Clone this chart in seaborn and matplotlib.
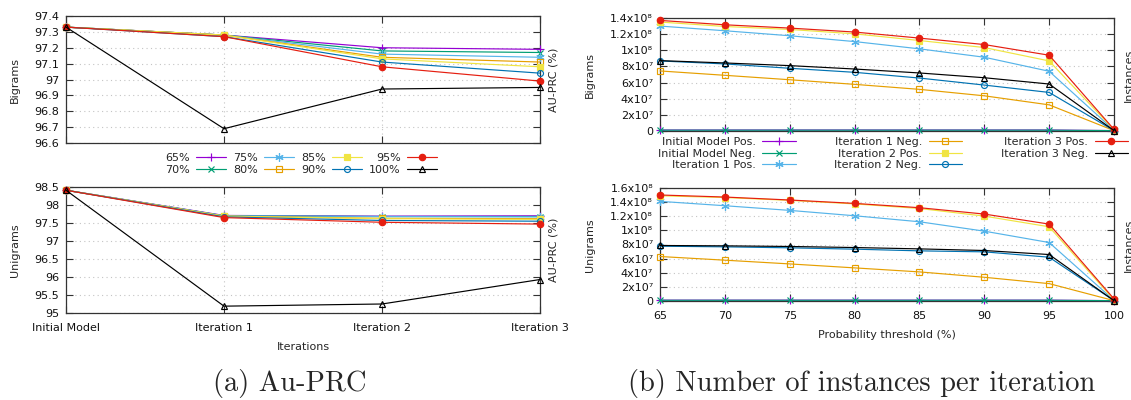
import numpy as np
import pandas as pd
import matplotlib
matplotlib.use("Agg")
import matplotlib.pyplot as plt
from matplotlib.ticker import FixedLocator, FuncFormatter
import seaborn as sns

# ---------------------------------------------------------------- data
ITERATIONS = ["Initial Model", "Iteration 1", "Iteration 2", "Iteration 3"]
THRESHOLD_NAMES = ["65%", "70%", "75%", "80%", "85%", "90%", "95%", "100%"]
THRESHOLDS = [65, 70, 75, 80, 85, 90, 95, 100]
INSTANCE_NAMES = ["Initial Model Pos.", "Initial Model Neg.",
                  "Iteration 1 Pos.", "Iteration 1 Neg.",
                  "Iteration 2 Pos.", "Iteration 2 Neg.",
                  "Iteration 3 Pos.", "Iteration 3 Neg."]

# AU-PRC (%) of each threshold across iterations
AUPRC_BIGRAMS = [
    [97.33, 97.28, 97.20, 97.19],
    [97.33, 97.28, 97.18, 97.17],
    [97.33, 97.28, 97.16, 97.14],
    [97.33, 97.28, 97.14, 97.11],
    [97.33, 97.28, 97.13, 97.08],
    [97.33, 97.27, 97.11, 97.04],
    [97.33, 97.27, 97.08, 96.99],
    [97.33, 96.69, 96.94, 96.95],
]
AUPRC_UNIGRAMS = [
    [98.41, 97.71, 97.69, 97.70],
    [98.41, 97.70, 97.68, 97.68],
    [98.41, 97.70, 97.68, 97.67],
    [98.41, 97.69, 97.63, 97.62],
    [98.41, 97.69, 97.62, 97.60],
    [98.41, 97.67, 97.57, 97.55],
    [98.41, 97.65, 97.52, 97.47],
    [98.41, 95.19, 95.25, 95.93],
]

# number of instances per probability threshold
INSTANCES_BIGRAMS = [
    [1.2e6, 1.2e6, 1.2e6, 1.2e6, 1.2e6, 1.2e6, 1.2e6, 0.5e6],
    [1.0e6, 1.0e6, 1.0e6, 1.0e6, 1.0e6, 1.0e6, 1.0e6, 0.5e6],
    [1.300e8, 1.242e8, 1.180e8, 1.108e8, 1.018e8, 0.914e8, 0.740e8, 1.0e6],
    [7.44e7, 6.90e7, 6.35e7, 5.78e7, 5.16e7, 4.36e7, 3.24e7, 0.5e6],
    [1.350e8, 1.295e8, 1.258e8, 1.204e8, 1.121e8, 1.034e8, 0.868e8, 1.5e6],
    [8.68e7, 8.31e7, 7.77e7, 7.27e7, 6.56e7, 5.69e7, 4.78e7, 0.5e6],
    [1.370e8, 1.316e8, 1.275e8, 1.226e8, 1.151e8, 1.071e8, 0.939e8, 2.0e6],
    [8.72e7, 8.43e7, 8.10e7, 7.68e7, 7.19e7, 6.60e7, 5.82e7, 0.5e6],
]
INSTANCES_UNIGRAMS = [
    [1.2e6, 1.2e6, 1.2e6, 1.2e6, 1.2e6, 1.2e6, 1.2e6, 0.5e6],
    [1.0e6, 1.0e6, 1.0e6, 1.0e6, 1.0e6, 1.0e6, 1.0e6, 0.5e6],
    [1.411e8, 1.349e8, 1.283e8, 1.207e8, 1.122e8, 0.989e8, 0.828e8, 1.0e6],
    [6.30e7, 5.78e7, 5.25e7, 4.69e7, 4.12e7, 3.36e7, 2.46e7, 0.5e6],
    [1.490e8, 1.465e8, 1.425e8, 1.375e8, 1.310e8, 1.202e8, 1.051e8, 1.5e6],
    [7.76e7, 7.67e7, 7.53e7, 7.34e7, 7.10e7, 6.96e7, 6.20e7, 0.5e6],
    [1.501e8, 1.472e8, 1.430e8, 1.382e8, 1.321e8, 1.231e8, 1.089e8, 3.0e6],
    [7.86e7, 7.81e7, 7.72e7, 7.57e7, 7.38e7, 7.15e7, 6.58e7, 0.5e6],
]

# ---------------------------------------------------------------- style
COLORS = ["#9400d3", "#009e73", "#56b4e9", "#e69f00",
          "#f0e442", "#0072b2", "#e51e10", "#000000"]
ASTERISK = (6, 2, 0)
MARKERS = ["+", "x", ASTERISK, "s", "s", "o", "o", "^"]
FILLED = [True, True, True, False, True, False, True, False]
SIZES = [6, 5, 6, 4.3, 4.3, 4.3, 4.6, 4.3]

sns.set_theme(style="white")
plt.rcParams["font.family"] = ["DejaVu Sans"]
plt.rcParams["font.size"] = 8
FS = 8
FRAME = "#333333"
GRID = "#c4c4c4"
SUPERSCRIPTS = str.maketrans("0123456789", "⁰¹²³⁴⁵⁶⁷⁸⁹")

fig = plt.figure(figsize=(11.31, 4.0), dpi=100)
W, H = 1131.0, 400.0


def axes_px(x0, y0, x1, y1):
    return fig.add_axes([x0 / W, 1 - y1 / H, (x1 - x0) / W, (y1 - y0) / H])


def draw_series(ax, xs, rows, names):
    for i, (vals, name) in enumerate(zip(rows, names)):
        df = pd.DataFrame({"x": xs, "y": vals})
        sns.lineplot(data=df, x="x", y="y", ax=ax, color=COLORS[i],
                     linewidth=0.85, marker=MARKERS[i], markersize=SIZES[i],
                     markeredgecolor=COLORS[i],
                     markerfacecolor=COLORS[i] if FILLED[i] else "none",
                     markeredgewidth=0.85, label=name, legend=False,
                     clip_on=False, zorder=3 + i)


def style_axes(ax):
    for s in ax.spines.values():
        s.set_visible(True)
        s.set_color(FRAME)
        s.set_linewidth(0.9)
    ax.tick_params(direction="in", length=5, width=0.8, color=FRAME,
                   top=True, right=True, bottom=True, left=True,
                   labelsize=FS, labelcolor="#111111")
    ax.tick_params(axis="y", pad=5)
    ax.tick_params(axis="x", pad=7)
    ax.grid(True, linestyle=(0, (1, 3)), color=GRID, linewidth=0.8)
    ax.set_xlabel("")
    ax.set_ylabel("")


g_fmt = FuncFormatter(lambda v, p: "%g" % round(v, 6))


def sci_fmt(v, p):
    if v == 0:
        return "0"
    e = int(np.floor(np.log10(v) + 1e-9))
    m = v / 10 ** e
    return "%gx10%s" % (round(m, 3), str(e).translate(SUPERSCRIPTS))


it_pos = np.arange(len(ITERATIONS))

# (a) AU-PRC -------------------------------------------------------------
ax_a1 = axes_px(66, 16, 540, 143)
draw_series(ax_a1, it_pos, AUPRC_BIGRAMS, THRESHOLD_NAMES)
style_axes(ax_a1)
ax_a1.set_xlim(0, 3)
ax_a1.set_ylim(96.6, 97.4)
ax_a1.yaxis.set_major_locator(FixedLocator(np.arange(96.6, 97.41, 0.1)))
ax_a1.yaxis.set_major_formatter(g_fmt)
ax_a1.set_xticks(it_pos)
ax_a1.set_xticklabels([])

ax_a2 = axes_px(66, 187, 540, 313)
draw_series(ax_a2, it_pos, AUPRC_UNIGRAMS, THRESHOLD_NAMES)
style_axes(ax_a2)
ax_a2.set_xlim(0, 3)
ax_a2.set_ylim(95, 98.5)
ax_a2.yaxis.set_major_locator(FixedLocator(np.arange(95, 98.51, 0.5)))
ax_a2.yaxis.set_major_formatter(g_fmt)
ax_a2.set_xticks(it_pos)
ax_a2.set_xticklabels(ITERATIONS)

fig.text(15 / W, 1 - 80 / H, "Bigrams", rotation=90, ha="center", va="center", fontsize=FS)
fig.text(15 / W, 1 - 250 / H, "Unigrams", rotation=90, ha="center", va="center", fontsize=FS)
fig.text(553 / W, 1 - 80 / H, "AU-PRC (%)", rotation=90, ha="center", va="center", fontsize=FS)
fig.text(553 / W, 1 - 250 / H, "AU-PRC (%)", rotation=90, ha="center", va="center", fontsize=FS)
fig.text(303 / W, 1 - 347 / H, "Iterations", ha="center", va="center", fontsize=FS)

h, l = ax_a1.get_legend_handles_labels()
fig.legend(h, l, ncol=4, loc="center", bbox_to_anchor=(301 / W, 1 - 164 / H),
           frameon=False, markerfirst=False, fontsize=FS, handlelength=2.7,
           handletextpad=0.6, columnspacing=0.6, labelspacing=0.15,
           borderpad=0, borderaxespad=0)

# (b) instances -----------------------------------------------------------
ax_b1 = axes_px(660, 18, 1114, 131)
draw_series(ax_b1, THRESHOLDS, INSTANCES_BIGRAMS, INSTANCE_NAMES)
style_axes(ax_b1)
ax_b1.set_xlim(65, 100)
ax_b1.set_ylim(0, 1.4e8)
ax_b1.yaxis.set_major_locator(FixedLocator(np.arange(0, 1.41e8, 2e7)))
ax_b1.yaxis.set_major_formatter(FuncFormatter(sci_fmt))
ax_b1.set_xticks(THRESHOLDS)
ax_b1.set_xticklabels([])

ax_b2 = axes_px(660, 188, 1114, 301)
draw_series(ax_b2, THRESHOLDS, INSTANCES_UNIGRAMS, INSTANCE_NAMES)
style_axes(ax_b2)
ax_b2.set_xlim(65, 100)
ax_b2.set_ylim(0, 1.6e8)
ax_b2.yaxis.set_major_locator(FixedLocator(np.arange(0, 1.61e8, 2e7)))
ax_b2.yaxis.set_major_formatter(FuncFormatter(sci_fmt))
ax_b2.set_xticks(THRESHOLDS)
ax_b2.set_xticklabels([str(t) for t in THRESHOLDS])

fig.text(590 / W, 1 - 75 / H, "Bigrams", rotation=90, ha="center", va="center", fontsize=FS)
fig.text(590 / W, 1 - 245 / H, "Unigrams", rotation=90, ha="center", va="center", fontsize=FS)
fig.text(1129 / W, 1 - 75 / H, "Instances", rotation=90, ha="center", va="center", fontsize=FS)
fig.text(1129 / W, 1 - 245 / H, "Instances", rotation=90, ha="center", va="center", fontsize=FS)
fig.text(887 / W, 1 - 335 / H, "Probability threshold (%)", ha="center", va="center", fontsize=FS)

h, l = ax_b1.get_legend_handles_labels()
fig.legend(h, l, ncol=3, loc="upper left", bbox_to_anchor=(658 / W, 1 - 137 / H),
           frameon=False, markerfirst=False, fontsize=FS, handlelength=3.0,
           handletextpad=0.6, columnspacing=3.5, labelspacing=0.15,
           borderpad=0, borderaxespad=0)

# captions
fig.text(290 / W, 1 - 383 / H, "(a) Au-PRC", ha="center", va="center",
         family="cmr10", fontsize=20.5)
fig.text(862 / W, 1 - 383 / H, "(b) Number of instances per iteration",
         ha="center", va="center", family="cmr10", fontsize=20.5)

fig.savefig("out.png", dpi=100, facecolor="white")
